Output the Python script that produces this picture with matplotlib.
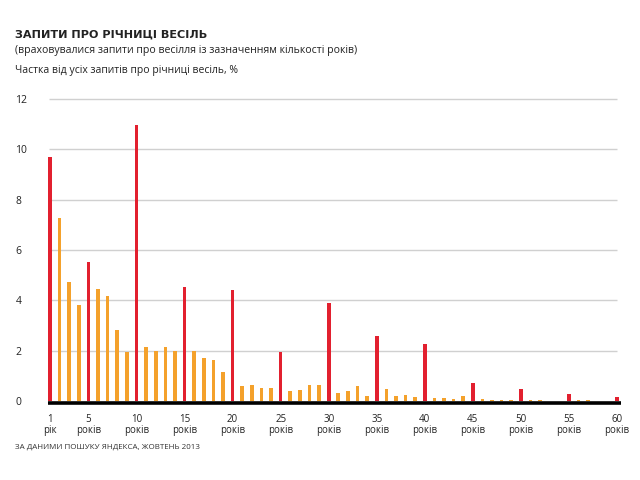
import numpy as np
from matplotlib import pyplot as plt

plt.rcParams['font.family'] = ['Open Sans', 'DejaVu Sans']

# роки річниці та частка запитів, %
years = list(range(1, 61))
shares = [9.71, 7.26, 4.72, 3.80, 5.53, 4.44, 4.16, 2.81, 1.94, 10.95,
          2.16, 1.98, 2.13, 2.00, 4.52, 2.00, 1.71, 1.64, 1.15, 4.40,
          0.58, 0.65, 0.53, 0.50, 1.94, 0.39, 0.42, 0.63, 0.63, 3.88,
          0.30, 0.41, 0.58, 0.18, 2.58, 0.47, 0.19, 0.23, 0.14, 2.28,
          0.13, 0.13, 0.06, 0.19, 0.72, 0.07, 0.02, 0.03, 0.03, 0.47,
          0.02, 0.05, 0.01, 0.01, 0.26, 0.02, 0.02, 0.01, 0.01, 0.15]
tick_years = [1, 5, 10, 15, 20, 25, 30, 35, 40, 45, 50, 55, 60]
tick_labels = ["1\nрік"] + [f"{y}\nроків" for y in tick_years[1:]]
y_ticks = [0, 2, 4, 6, 8, 10, 12]

RED = '#e2202f'
ORANGE = '#f4a12b'
colors = [RED if (y == 1 or y % 5 == 0) else ORANGE for y in years]

fig = plt.figure(figsize=(6.4, 4.8), dpi=100)
ax = fig.add_axes([48 / 640, 0.15417, 573 / 640, 0.64479])

ax.bar(years, shares, width=0.38, color=colors, zorder=2)
ax.hlines(y_ticks[1:], 0.85, 60.0, color='#d0d0d0', linewidth=1.0, zorder=1)
ax.axhline(-0.09, color='black', linewidth=2.6, zorder=3)

ax.set_xlim(0.79, 60.42)
ax.set_ylim(-0.2, 12.1)
for s in ax.spines.values():
    s.set_visible(False)

ax.set_xticks(tick_years)
ax.set_xticklabels(tick_labels, fontsize=7, color='#222222', linespacing=0.95)
ax.set_yticks(y_ticks)
ax.set_yticklabels([str(v) for v in y_ticks], fontsize=7.5, color='#222222', ha='left')
ax.tick_params(axis='x', length=0, pad=6)
ax.tick_params(axis='y', length=0, pad=23.5)

fig.text(15 / 640, 1 - 35 / 480, "ЗАПИТИ ПРО РІЧНИЦІ ВЕСІЛЬ", fontsize=8.1,
         family=['DejaVu Sans'], fontweight='bold', color='#222222',
         va='center', ha='left')
fig.text(15 / 640, 1 - 51 / 480,
         "(враховувалися запити про весілля із зазначенням кількості років)",
         fontsize=7.55, color='#222222', va='center', ha='left')
fig.text(15 / 640, 1 - 71 / 480, "Частка від усіх запитів про річниці весіль, %",
         fontsize=7.5, color='#222222', va='center', ha='left')
fig.text(15 / 640, 1 - 447.5 / 480, "ЗА ДАНИМИ ПОШУКУ ЯНДЕКСА, ЖОВТЕНЬ 2013",
         fontsize=5.8, color='#333333', va='center', ha='left')

fig.savefig("out.png", dpi=100)
